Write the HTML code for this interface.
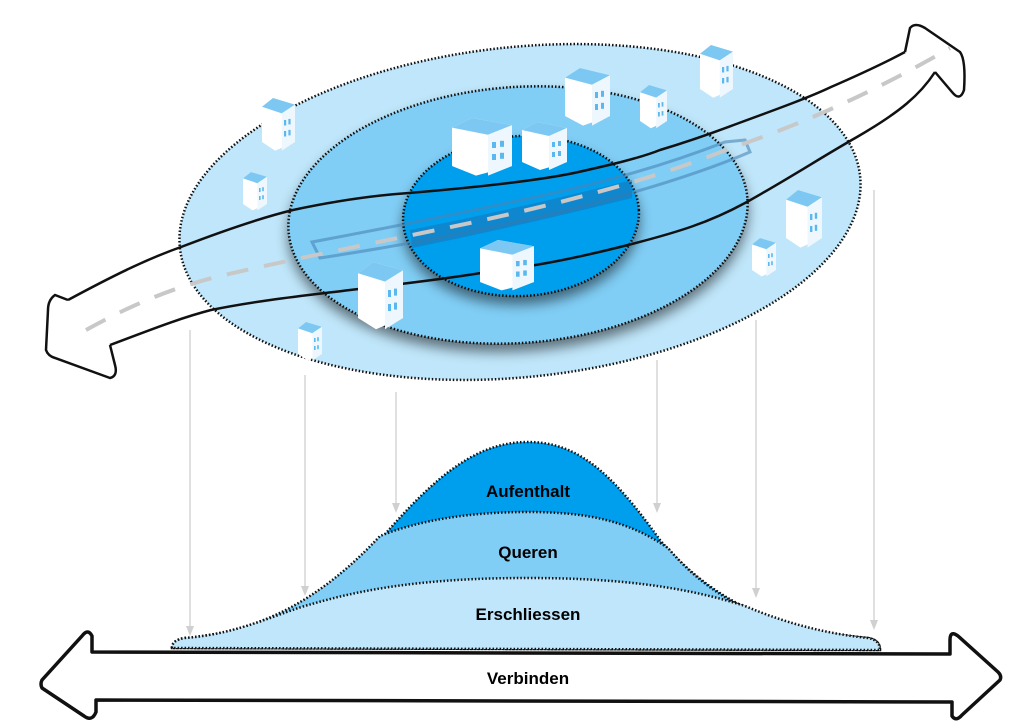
<!DOCTYPE html>
<html><head><meta charset="utf-8"><style>
html,body{margin:0;padding:0;background:#fff;}
svg{display:block;}
text{font-family:"Liberation Sans",Arial,sans-serif;font-weight:bold;fill:#000;}
</style></head><body>
<svg width="1024" height="723" viewBox="0 0 1024 723" xmlns="http://www.w3.org/2000/svg">
<defs>
<filter id="sh" x="-20%" y="-20%" width="140%" height="150%"><feGaussianBlur in="SourceAlpha" stdDeviation="6"/><feOffset dy="8"/><feComponentTransfer><feFuncA type="linear" slope="0.5"/></feComponentTransfer><feMerge><feMergeNode/><feMergeNode in="SourceGraphic"/></feMerge></filter>
<g id="bld">
<polygon points="0,8 10,0 30,6 30,40 12,48 0,40" fill="#fff"/>
<polygon points="0,8 10,0 30,6 18,14" fill="#7cc8f2"/>
<polygon points="18,14 30,6 30,40 18,48" fill="#eef7fd"/>
<g fill="#5bb8ee"><rect x="20" y="20" width="2" height="5"/><rect x="24" y="19" width="2" height="5"/><rect x="20" y="30" width="2" height="5"/><rect x="24" y="29" width="2" height="5"/></g>
</g>
</defs>
<g stroke="#d0d0d0" stroke-width="1.3" fill="#d0d0d0">
<line x1="190" y1="330" x2="190" y2="628"/><polygon points="186,626 194,626 190,636" stroke="none"/>
<line x1="305" y1="375" x2="305" y2="588"/><polygon points="301,586 309,586 305,596" stroke="none"/>
<line x1="396" y1="392" x2="396" y2="505"/><polygon points="392,503 400,503 396,513" stroke="none"/>
<line x1="657" y1="360" x2="657" y2="505"/><polygon points="653,503 661,503 657,513" stroke="none"/>
<line x1="756" y1="320" x2="756" y2="590"/><polygon points="752,588 760,588 756,598" stroke="none"/>
<line x1="874" y1="190" x2="874" y2="622"/><polygon points="870,620 878,620 874,630" stroke="none"/>
</g>
<ellipse cx="520" cy="212" rx="342" ry="165" transform="rotate(-6 520 212)" fill="#bfe6fa" stroke="#111" stroke-width="2.5" stroke-dasharray="1.5 2"/>
<g filter="url(#sh)">
<ellipse cx="518" cy="215" rx="230" ry="128" transform="rotate(-4 518 215)" fill="#80cdf5" stroke="#111" stroke-width="2.5" stroke-dasharray="1.5 2"/>
</g>
<g filter="url(#sh)">
<ellipse cx="521" cy="216" rx="118" ry="80" transform="rotate(-3 521 216)" fill="#009fee" stroke="#111" stroke-width="2.5" stroke-dasharray="1.5 2"/>
</g>
<!-- tram platform -->
<path d="M312,242 L320,258 Q450,238 560,212 Q680,182 750,152 L745,140 L725,142 Q640,175 540,196 Q420,222 312,242 Z" fill="none" stroke="#4a86b5" stroke-width="3" opacity="0.6"/>
<path d="M410,230 Q520,208 632,180 L632,198 Q520,226 412,248 Z" fill="#1c70ad" opacity="0.5"/>
<!-- road -->
<path d="M86,330 C140,300 180,286 220,276 C280,262 340,250 422,233 C560,205 650,180 726,150 C790,128 860,100 950,48" fill="none" stroke="#c8c8c8" stroke-width="4" stroke-dasharray="22 16"/>
<path d="M68,300 C120,272 150,258 181,247 C220,232 260,218 293,210 C340,200 380,195 409,193 C480,187 540,180 574,173 C610,165 640,158 660,150 C700,138 720,130 739,123 C780,108 810,97 831,87 C870,70 890,60 905,52" fill="none" stroke="#111" stroke-width="2.5"/>
<path d="M110,345 C150,330 180,318 211,310 C260,300 310,295 350,290 C420,282 450,278 481,273 C520,268 530,266 547,263 C580,257 600,252 620,247 C680,232 710,222 745,203 C790,178 820,158 857,137 C900,112 920,95 935,72" fill="none" stroke="#111" stroke-width="2.5"/>
<path d="M905,52 L910,28 Q915,22 925,28 L960,52 Q966,60 964,90 Q960,102 952,92 L935,72" fill="none" stroke="#111" stroke-width="2.5"/>
<path d="M68,300 L55,295 Q48,300 48,310 L46,350 Q48,356 55,358 L110,378 Q118,376 115,365 L110,345" fill="none" stroke="#111" stroke-width="2.5"/>
<!-- buildings -->
<use href="#bld" transform="translate(262,98) scale(1.1)"/>
<use href="#bld" transform="translate(243,172) scale(0.8)"/>
<use href="#bld" transform="translate(298,322) scale(0.8)"/>
<use href="#bld" transform="translate(700,45) scale(1.1)"/>
<use href="#bld" transform="translate(786,190) scale(1.2)"/>
<use href="#bld" transform="translate(752,238) scale(0.8)"/>
<use href="#bld" transform="translate(640,85) scale(0.9)"/>
<use href="#bld" transform="translate(565,68) scale(1.5,1.2)"/>
<use href="#bld" transform="translate(358,262) scale(1.5,1.4)"/>
<use href="#bld" transform="translate(452,118) scale(2.0,1.2)"/>
<use href="#bld" transform="translate(522,122) scale(1.5,1.0)"/>
<use href="#bld" transform="translate(480,240) scale(1.8,1.05)"/>
<!-- bell curve -->
<path d="M172,648 Q172,640 185,638 C260,632 320,600 380,540 C440,470 480,442 528,442 C576,442 610,470 660,540 C720,610 790,632 868,638 Q880,640 880,650 Z" fill="#009fee" stroke="#111" stroke-width="2.5" stroke-dasharray="1.5 2"/>
<path d="M172,648 Q172,640 185,638 C260,632 320,600 380,536 C420,520 470,512 528,512 C590,512 630,522 668,548 C720,610 790,632 868,638 Q880,640 880,650 Z" fill="#80cdf5" stroke="#111" stroke-width="2.5" stroke-dasharray="1.5 2"/>
<path d="M172,648 Q172,640 185,638 C240,634 280,612 312,604 C380,584 450,578 528,578 C610,578 680,585 745,606 C790,625 830,634 868,638 Q880,640 880,650 Z" fill="#bfe6fa" stroke="#111" stroke-width="2.5" stroke-dasharray="1.5 2"/>
<path d="M92,652 L92,636 Q88,628 82,636 L42,680 Q40,684 42,688 L84,716 Q92,722 96,712 L96,700 L952,702 L952,716 Q956,722 962,715 L1000,680 Q1002,676 998,672 L958,636 Q950,630 950,640 L950,654 Z" fill="#fff" stroke="#111" stroke-width="3.5" stroke-linejoin="round"/>
<text x="528" y="497" font-size="17" text-anchor="middle">Aufenthalt</text>
<text x="528" y="558" font-size="17" text-anchor="middle">Queren</text>
<text x="528" y="620" font-size="17" text-anchor="middle">Erschliessen</text>
<text x="528" y="684" font-size="17" text-anchor="middle">Verbinden</text>
</svg>
</body></html>
